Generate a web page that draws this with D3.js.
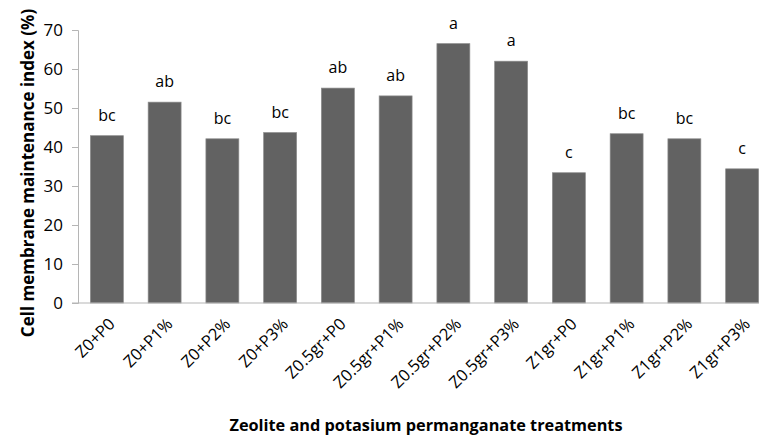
<!DOCTYPE html>
<html>
<head>
<meta charset="utf-8">
<script src="https://cdn.jsdelivr.net/npm/d3@7"></script>
<style>
  body { margin: 0; background: #fff; }
  svg { display: block; font-family: "Open Sans", sans-serif; }
</style>
</head>
<body>
<svg id="chart"></svg>
<script>
var treatments = ["Z0+P0", "Z0+P1%", "Z0+P2%", "Z0+P3%", "Z0.5gr+P0", "Z0.5gr+P1%",
                  "Z0.5gr+P2%", "Z0.5gr+P3%", "Z1gr+P0", "Z1gr+P1%", "Z1gr+P2%", "Z1gr+P3%"]
var indexValues = [42.9, 51.5, 42.1, 43.7, 55.1, 53.1, 66.5, 62.0, 33.4, 43.4, 42.1, 34.4]
var letters = ["bc", "ab", "bc", "bc", "ab", "ab", "a", "a", "c", "bc", "bc", "c"]
var yTicks = [0, 10, 20, 30, 40, 50, 60, 70]

var dimensions = {
    width: 759,
    height: 437,
    margin: { top: 30, bottom: 134, left: 78, right: -12 }
}

var svg = d3.select("#chart")
            .attr("width", dimensions.width)
            .attr("height", dimensions.height)

var data = treatments.map((t, i) => ({ name: t, value: indexValues[i], letter: letters[i] }))

var xScale = d3.scaleBand()
               .domain(treatments)
               .range([dimensions.margin.left, dimensions.width - dimensions.margin.right])
               .paddingInner(0.43)
               .paddingOuter(0.215)

var yScale = d3.scaleLinear()
               .domain([0, 70])
               .range([dimensions.height - dimensions.margin.bottom, dimensions.margin.top])

// bars
svg.append("g")
   .selectAll("rect")
   .data(data)
   .enter()
   .append("rect")
   .attr("x", d => xScale(d.name))
   .attr("y", d => yScale(d.value))
   .attr("width", xScale.bandwidth())
   .attr("height", d => yScale(0) - yScale(d.value))
   .attr("fill", "#626262")
   .attr("stroke", "#8a8a8a")
   .attr("stroke-width", 0.7)

// significance letters
svg.append("g")
   .selectAll("text")
   .data(data)
   .enter()
   .append("text")
   .attr("x", d => xScale(d.name) + xScale.bandwidth() / 2)
   .attr("y", d => yScale(d.value) - 15)
   .attr("text-anchor", "middle")
   .style("font-size", "16px")
   .style("fill", "#000")
   .text(d => d.letter)

// y axis
var yAxis = d3.axisLeft(yScale).tickValues(yTicks).tickSize(6).tickPadding(9)
var yG = svg.append("g")
            .attr("transform", "translate(" + dimensions.margin.left + ",0)")
            .call(yAxis)
yG.selectAll("path, line").attr("stroke", "#b5b5b5")
yG.selectAll("text").style("font-size", "17px").style("fill", "#000").style("font-family", "Open Sans, sans-serif")

// x axis
var xAxis = d3.axisBottom(xScale).tickSize(0).tickFormat("")
var xG = svg.append("g")
            .attr("transform", "translate(0," + yScale(0) + ")")
            .call(xAxis)
xG.select("path").attr("stroke", "#b5b5b5").attr("d", "M" + (dimensions.margin.left - 6) + ",0H" + dimensions.width)

// rotated category labels
svg.append("g")
   .selectAll("text")
   .data(treatments)
   .enter()
   .append("text")
   .attr("transform", d => "translate(" + (xScale(d) + xScale.bandwidth() / 2 + 6) + "," + (yScale(0) + 19) + ") rotate(-45)")
   .attr("text-anchor", "end")
   .attr("dominant-baseline", "middle")
   .style("font-size", "16.5px")
   .text(d => d)

// axis titles
svg.append("text")
   .attr("x", 426)
   .attr("y", 431)
   .attr("text-anchor", "middle")
   .style("font-size", "16.3px")
   .style("font-weight", "bold")
   .text("Zeolite and potasium permanganate treatments")

svg.append("text")
   .attr("transform", "rotate(-90)")
   .attr("x", -173)
   .attr("y", 34)
   .attr("text-anchor", "middle")
   .style("font-size", "17px")
   .style("font-weight", "bold")
   .text("Cell membrane maintenance index (%)")
</script>
</body>
</html>
